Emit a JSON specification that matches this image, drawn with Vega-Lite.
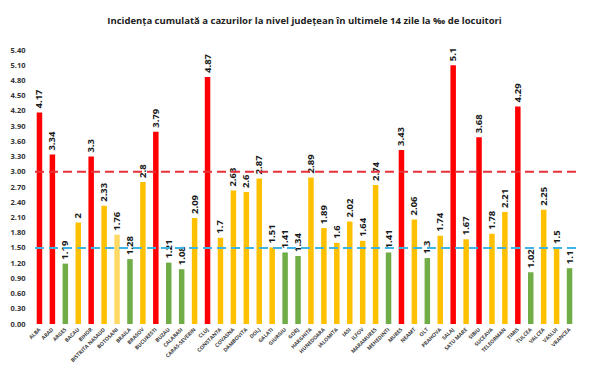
{
  "$schema": "https://vega.github.io/schema/vega-lite/v6.json",
  "autosize": {"type": "none"},
  "width": 543,
  "height": 279,
  "padding": {"left": 33, "top": 45, "right": 19, "bottom": 58},
  "background": "white",
  "title": {
    "text": "Incidența cumulată a cazurilor la nivel județean în ultimele 14 zile la ‰ de locuitori",
    "font": "Open Sans",
    "fontSize": 9.5,
    "fontWeight": "bold",
    "color": "#222222",
    "anchor": "middle",
    "offset": 20
  },
  "config": {
    "view": {"stroke": null},
    "font": "Open Sans",
    "axisY": {"labelOverlap": false},
    "axisX": {"labelOverlap": false}
  },
  "datasets": {
    "counties": [
      {"judet": "ALBA", "v": 4.17, "c": "red"},
      {"judet": "ARAD", "v": 3.34, "c": "red"},
      {"judet": "ARGES", "v": 1.19, "c": "green"},
      {"judet": "BACAU", "v": 2, "c": "yellow"},
      {"judet": "BIHOR", "v": 3.3, "c": "red"},
      {"judet": "BISTRITA NASAUD", "v": 2.33, "c": "yellow"},
      {"judet": "BOTOSANI", "v": 1.76, "c": "light"},
      {"judet": "BRAILA", "v": 1.28, "c": "green"},
      {"judet": "BRASOV", "v": 2.8, "c": "yellow"},
      {"judet": "BUCURESTI", "v": 3.79, "c": "red"},
      {"judet": "BUZAU", "v": 1.21, "c": "green"},
      {"judet": "CALARASI", "v": 1.08, "c": "green"},
      {"judet": "CARAS-SEVERIN", "v": 2.09, "c": "yellow"},
      {"judet": "CLUJ", "v": 4.87, "c": "red"},
      {"judet": "CONSTANTA", "v": 1.7, "c": "yellow"},
      {"judet": "COVASNA", "v": 2.63, "c": "yellow"},
      {"judet": "DAMBOVITA", "v": 2.6, "c": "yellow"},
      {"judet": "DOLJ", "v": 2.87, "c": "yellow"},
      {"judet": "GALATI", "v": 1.51, "c": "yellow"},
      {"judet": "GIURGIU", "v": 1.41, "c": "green"},
      {"judet": "GORJ", "v": 1.34, "c": "green"},
      {"judet": "HARGHITA", "v": 2.89, "c": "yellow"},
      {"judet": "HUNEDOARA", "v": 1.89, "c": "yellow"},
      {"judet": "IALOMITA", "v": 1.6, "c": "yellow"},
      {"judet": "IASI", "v": 2.02, "c": "yellow"},
      {"judet": "ILFOV", "v": 1.64, "c": "yellow"},
      {"judet": "MARAMURES", "v": 2.74, "c": "yellow"},
      {"judet": "MEHEDINTI", "v": 1.41, "c": "green"},
      {"judet": "MURES", "v": 3.43, "c": "red"},
      {"judet": "NEAMT", "v": 2.06, "c": "yellow"},
      {"judet": "OLT", "v": 1.3, "c": "green"},
      {"judet": "PRAHOVA", "v": 1.74, "c": "yellow"},
      {"judet": "SALAJ", "v": 5.1, "c": "red"},
      {"judet": "SATU MARE", "v": 1.67, "c": "yellow"},
      {"judet": "SIBIU", "v": 3.68, "c": "red"},
      {"judet": "SUCEAVA", "v": 1.78, "c": "yellow"},
      {"judet": "TELEORMAN", "v": 2.21, "c": "yellow"},
      {"judet": "TIMIS", "v": 4.29, "c": "red"},
      {"judet": "TULCEA", "v": 1.02, "c": "green"},
      {"judet": "VALCEA", "v": 2.25, "c": "yellow"},
      {"judet": "VASLUI", "v": 1.5, "c": "yellow"},
      {"judet": "VRANCEA", "v": 1.1, "c": "green"}
    ],
    "thresholds": [
      {"v": 3.0, "c": "red"},
      {"v": 1.5, "c": "blue"}
    ]
  },
  "encoding": {
    "y": {
      "field": "v", "type": "quantitative",
      "scale": {"domain": [0, 5.5], "nice": false},
      "axis": {
        "title": null, "values": [0, 0.3, 0.6, 0.9, 1.2, 1.5, 1.8, 2.1, 2.4, 2.7, 3.0, 3.3, 3.6, 3.9, 4.2, 4.5, 4.8, 5.1, 5.4],
        "format": ".2f", "grid": false, "domain": false, "ticks": false, "labelOverlap": false,
        "labelFontSize": 7.5, "labelFontWeight": "bold", "labelColor": "#333333", "labelPadding": 8
      }
    }
  },
  "layer": [
    {
      "data": {"name": "counties"},
      "mark": {"type": "bar", "width": 5.5},
      "encoding": {
        "x": {
          "field": "judet", "type": "nominal", "sort": null,
          "scale": {"paddingInner": 0.5, "paddingOuter": 0.25},
          "axis": {
            "title": null, "labelAngle": -45, "labelAlign": "right", "labelBaseline": "middle",
            "labelFontSize": 5.2, "labelFontWeight": "bold", "labelColor": "#404040",
            "ticks": false, "domain": false, "labelPadding": 4, "labelOverlap": false
          }
        },
        "color": {
          "field": "c", "type": "nominal", "legend": null,
          "scale": {"domain": ["red", "yellow", "green", "light"], "range": ["#FF0000", "#FFC000", "#70AD47", "#FFD966"]}
        }
      }
    },
    {
      "data": {"name": "counties"},
      "mark": {"type": "text", "angle": 270, "align": "left", "baseline": "middle", "dx": 4, "fontSize": 9.5, "fontWeight": "bold", "color": "#1a1a1a"},
      "encoding": {
        "x": {"field": "judet", "type": "nominal", "sort": null},
        "text": {"field": "v", "type": "quantitative"}
      }
    },
    {
      "data": {"name": "thresholds"},
      "mark": {"type": "rule", "strokeDash": [9, 5], "strokeWidth": 2},
      "encoding": {
        "color": {"field": "c", "type": "nominal", "legend": null, "scale": {"domain": ["red", "blue"], "range": ["#E8303A", "#3CB4E6"]}}
      }
    }
  ],
  "resolve": {"scale": {"color": "independent"}}
}
